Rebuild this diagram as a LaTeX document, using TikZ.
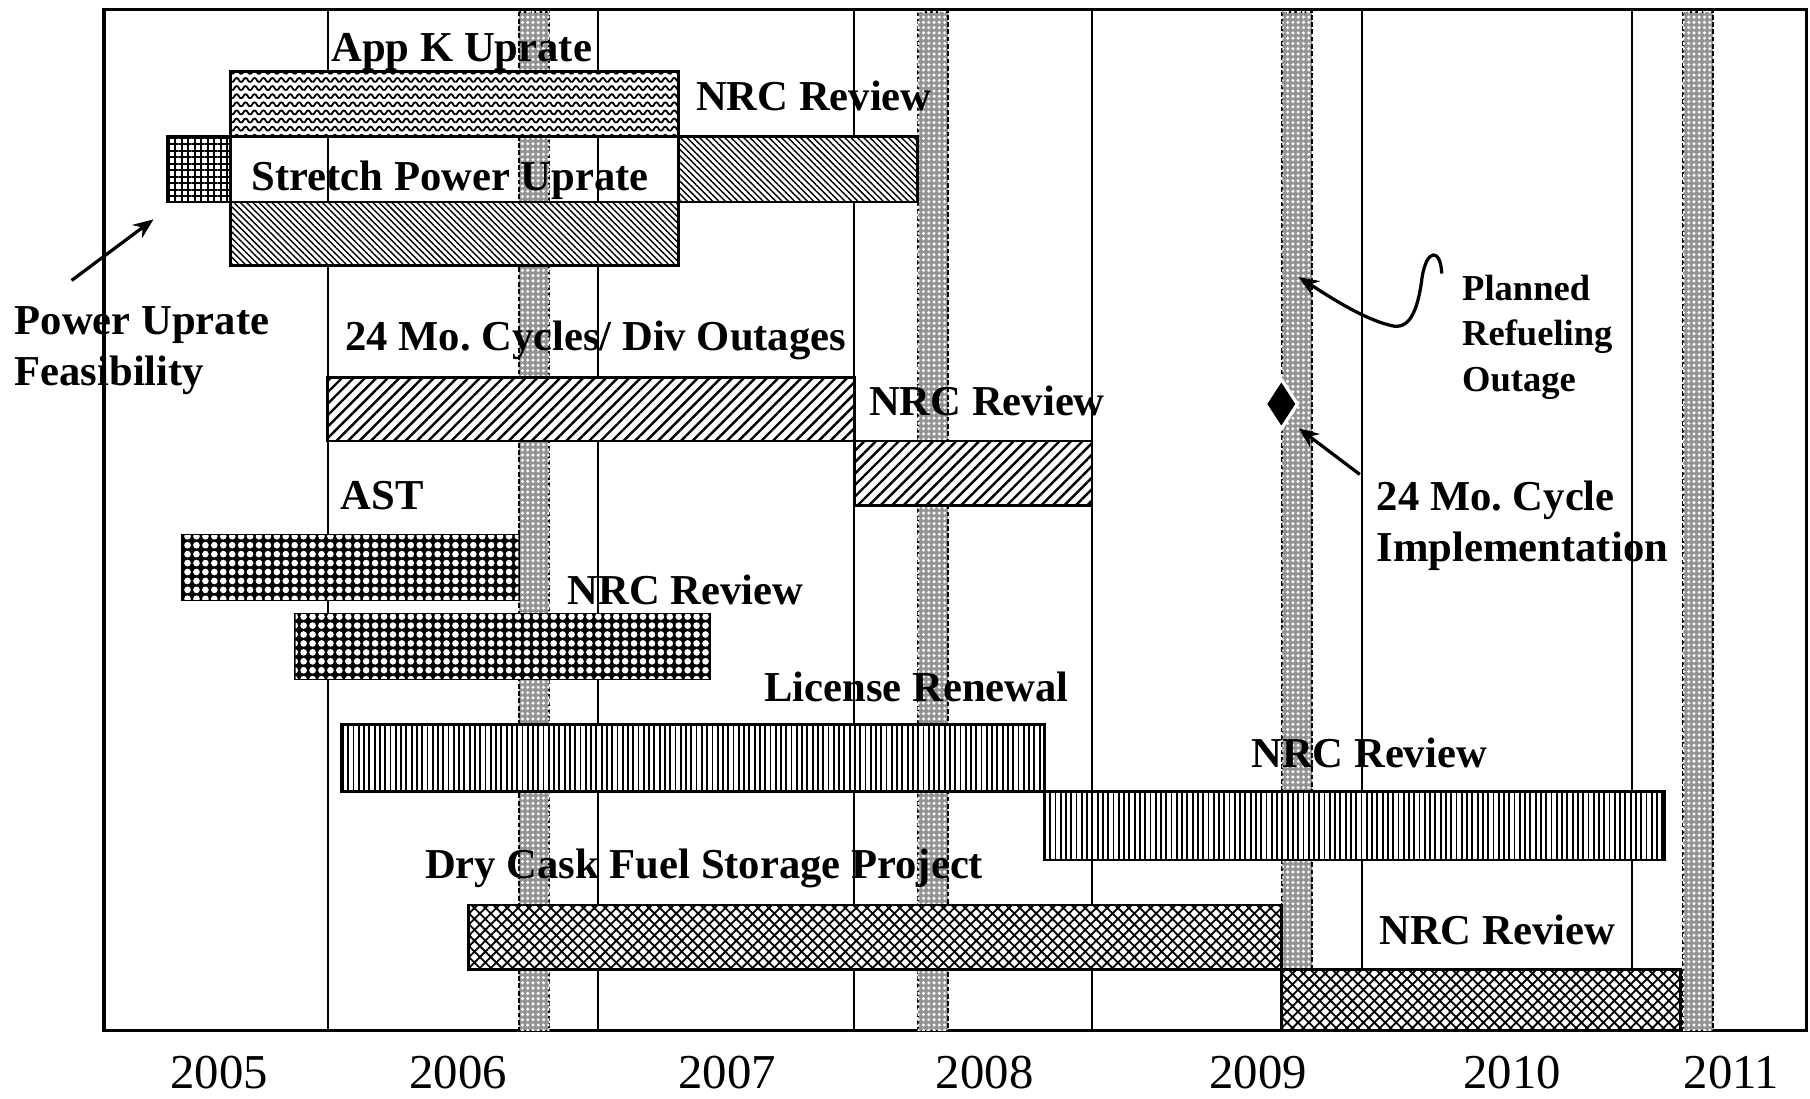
\documentclass[tikz,border=0pt]{standalone}
\usepackage{fontspec}
\setmainfont{Liberation Serif}
\usepackage{tikz}
\usetikzlibrary{arrows.meta, shapes.geometric, patterns, patterns.meta}
\definecolor{outage}{RGB}{120, 120, 120}
\pgfdeclarepatternformonly{wavy}{\pgfqpoint{-0.5pt}{-0.5pt}}{\pgfqpoint{2.7pt}{2.5pt}}{\pgfqpoint{2.2pt}{2pt}}{%
  \pgfsetlinewidth{0.45pt}%
  \pgfpathmoveto{\pgfqpoint{0pt}{0.5pt}}%
  \pgfpathcurveto{\pgfqpoint{0.55pt}{0.5pt}}{\pgfqpoint{0.55pt}{1.5pt}}{\pgfqpoint{1.1pt}{1.5pt}}%
  \pgfpathcurveto{\pgfqpoint{1.65pt}{1.5pt}}{\pgfqpoint{1.65pt}{0.5pt}}{\pgfqpoint{2.2pt}{0.5pt}}%
  \pgfusepath{stroke}}

\begin{document}
\frenchspacing
\begin{tikzpicture}[
          x=0.01cm, y=-0.01cm,
          lbl/.style={font=\bfseries\fontsize{10.5}{12.5}\selectfont, inner sep=0pt, anchor=base},
          small/.style={font=\bfseries\fontsize{9}{11.1}\selectfont},
          yr/.style={font=\fontsize{12}{14}\selectfont, inner sep=0pt, anchor=base},
          gridline/.style={line width=0.5pt},
          band/.style={fill=outage!80, draw=black, line width=0.5pt, dash pattern=on 1.2pt off 0.6pt,
                       postaction={pattern={Dots[distance=1.3pt, radius=0.42pt]}, pattern color=white}},
          task/.style={draw, line width=0.7pt, fill=white},
          wave/.style={task, postaction={pattern=wavy}},
          boxgrid/.style={task, postaction={pattern={Hatch[angle=0, distance=1.6pt, line width=0.5pt]}}},
          back/.style={task, postaction={pattern={Lines[angle=-45, distance=1.1pt, line width=0.35pt]}}},
          fwd/.style={task, postaction={pattern={Lines[angle=45, distance=2pt, line width=0.6pt]}}},
          dotbar/.style={draw, line width=0.7pt, fill=black,
                         postaction={pattern={Dots[distance=2.2pt, radius=0.82pt]}, pattern color=white}},
          vert/.style={task, postaction={pattern={Lines[angle=90, distance=1.3pt, line width=0.45pt]}}},
          cross/.style={task, postaction={pattern={Hatch[angle=45, distance=1.9pt, line width=0.45pt]}}},
          arr/.style={-{Stealth[length=5pt, width=4pt]}, line width=0.8pt},
        ]
        \useasboundingbox (0,0) rectangle (1568,952);
        \draw[line width=0.8pt] (90,8) rectangle (1565,893);
        \foreach \gx in {284, 518, 740, 946, 1180, 1414}
          \draw[gridline] (\gx,8) -- (\gx,893);
        \foreach \bx in {450, 795, 1111, 1458}
          \path[band] (\bx,10) rectangle ++(26,883);

        \draw[wave] (200,62) rectangle (588,118);
        \draw[boxgrid] (145,118) rectangle (200,175);
        \draw[line width=0.7pt] (200,118) rectangle (588,175);
        \draw[back] (588,118) rectangle (795,175);
        \draw[back] (200,175) rectangle (588,230);
        \draw[fwd] (284,327) rectangle (740,382);
        \draw[fwd] (740,382) rectangle (946,438);
        \draw[dotbar] (158,464) rectangle (449,519);
        \draw[dotbar] (256,532) rectangle (615,588);
        \draw[vert] (296,628) rectangle (905,686);
        \draw[vert] (905,686) rectangle (1442,745);
        \draw[cross] (406,784) rectangle (1110,840);
        \draw[cross] (1110,840) rectangle (1456,893);

        \node[lbl] (appk) at (400,53) {App K Uprate};
        \node[lbl] (appknrc) at (705,96) {NRC Review};
        \node[lbl] (spu) at (390,165) {Stretch Power Uprate};
        \node[lbl, anchor=north west, align=left] (feas) at (12,265) {Power Uprate\\Feasibility};
        \node[lbl] (cyc) at (516,304) {24 Mo. Cycles/ Div Outages};
        \node[lbl] (cycnrc) at (855,360) {NRC Review};
        \node[lbl] (ast) at (331,441) {AST};
        \node[lbl] (astnrc) at (594,524) {NRC Review};
        \node[lbl] (lic) at (794,608) {License Renewal};
        \node[lbl] (licnrc) at (1186,665) {NRC Review};
        \node[lbl] (dry) at (610,761) {Dry Cask Fuel Storage Project};
        \node[lbl] (drynrc) at (1297,818) {NRC Review};
        \node[lbl, small, anchor=north west, align=left] (outg) at (1266,238) {Planned\\Refueling\\Outage};
        \node[lbl, anchor=north west, align=left] (impl) at (1192,416) {24 Mo. Cycle\\Implementation};
        \foreach \yr/\yx in {2005/190, 2006/397, 2007/630, 2008/853, 2009/1090, 2010/1310, 2011/1500}
          \node[yr] (y\yr) at (\yx,943) {\yr};

        \node[diamond, fill=black, draw=white, line width=0.8pt, minimum width=0.29cm,
              minimum height=0.44cm, inner sep=0pt] (cycmark) at (1110,350) {};

        \coordinate (feastail) at (62,243);
        \coordinate (feashead) at (133,190);
        \coordinate (outgtail) at (1249,237);
        \coordinate (outghead) at (1125,240);
        \coordinate (impltail) at (1178,411);
        \coordinate (implhead) at (1125,371);
        \draw[arr] (feastail) -- (feashead);
        \draw[arr] (outgtail) .. controls (1248,215) and (1236,215) .. (1232,240)
                   .. controls (1228,272) and (1220,286) .. (1205,282)
                   .. controls (1180,276) and (1150,256) .. (outghead);
        \draw[arr] (impltail) -- (implhead);
      \end{tikzpicture}
\end{document}
